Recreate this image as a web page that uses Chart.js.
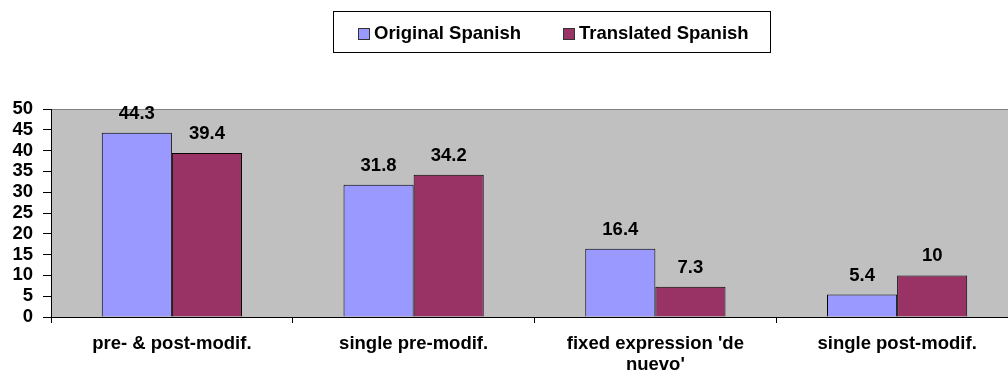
<!DOCTYPE html>
<html>
<head>
<meta charset="utf-8">
<script src="https://cdn.jsdelivr.net/npm/chart.js@4/dist/chart.umd.min.js"></script>
<style>
  html, body { margin: 0; padding: 0; background: #fff; overflow: hidden; }
  #wrap { position: relative; width: 1018px; height: 376px; }
  #legend {
    position: absolute; left: 333px; top: 11px; width: 436px; height: 40px;
    border: 1px solid #000; background: #fff;
    font: bold 18.5px "Liberation Sans", Arial, sans-serif; color: #000;
  }
  .item { position: absolute; top: 0; height: 40px; line-height: 42px; white-space: nowrap; }
  .sw { position: absolute; width: 10px; height: 10px; border: 1px solid #333; top: 16px; }
  .tx { position: absolute; left: 16px; top: 0; }
</style>
</head>
<body>
<div id="wrap">
  <canvas id="c"></canvas>
  <div id="legend"></div>
</div>
<script>
const categories = [
  ["pre- & post-modif."],
  ["single pre-modif."],
  ["fixed expression 'de", "nuevo'"],
  ["single post-modif."]
];
const seriesNames = ["Original Spanish", "Translated Spanish"];
const originalSpanish = [44.3, 31.8, 16.4, 5.4];
const translatedSpanish = [39.4, 34.2, 7.3, 10];
const seriesColors = ["#9999FF", "#993366"];
const yTicks = [0, 5, 10, 15, 20, 25, 30, 35, 40, 45, 50];

const FONT = "'Liberation Sans', Arial, sans-serif";

// legend (HTML)
const legendEl = document.getElementById('legend');
const legendPos = [24, 229];
seriesNames.forEach((name, i) => {
  const it = document.createElement('div');
  it.className = 'item';
  it.style.left = legendPos[i] + 'px';
  const sw = document.createElement('div');
  sw.className = 'sw';
  sw.style.background = seriesColors[i];
  const tx = document.createElement('div');
  tx.className = 'tx';
  tx.textContent = name;
  it.appendChild(sw); it.appendChild(tx);
  legendEl.appendChild(it);
});

const plotBg = {
  id: 'plotBg',
  beforeDraw(chart) {
    const {ctx, chartArea: a} = chart;
    ctx.save();
    ctx.fillStyle = '#C0C0C0';
    ctx.fillRect(a.left, a.top, a.right - a.left, a.bottom - a.top);
    ctx.strokeStyle = '#808080';
    ctx.lineWidth = 1;
    ctx.strokeRect(a.left + 0.5, a.top + 0.5, a.right - a.left, a.bottom - a.top);
    ctx.restore();
  }
};

const valueLabels = {
  id: 'valueLabels',
  afterDatasetsDraw(chart) {
    const ctx = chart.ctx;
    ctx.save();
    ctx.font = 'bold 18.5px ' + FONT;
    ctx.fillStyle = '#000';
    ctx.textAlign = 'center';
    ctx.textBaseline = 'alphabetic';
    chart.data.datasets.forEach((ds, di) => {
      chart.getDatasetMeta(di).data.forEach((bar, i) => {
        ctx.fillText(String(ds.data[i]), bar.x, bar.y - 14);
      });
    });
    ctx.restore();
  }
};

new Chart(document.getElementById('c'), {
  type: 'bar',
  data: {
    labels: categories,
    datasets: [
      { label: seriesNames[0], data: originalSpanish, backgroundColor: seriesColors[0], borderColor: '#000', borderWidth: 1 },
      { label: seriesNames[1], data: translatedSpanish, backgroundColor: seriesColors[1], borderColor: '#000', borderWidth: 1 }
    ]
  },
  options: {
    responsive: true,
    maintainAspectRatio: false,
    animation: false,
    devicePixelRatio: 1,
    events: [],
    layout: { padding: { top: 109, left: 0, right: 0, bottom: 0 } },
    datasets: { bar: { categoryPercentage: 0.58, barPercentage: 1.0 } },
    plugins: { legend: { display: false }, tooltip: { enabled: false } },
    scales: {
      x: {
        grid: { display: true, drawOnChartArea: false, drawTicks: true, tickLength: 6, color: '#000', offset: true },
        border: { display: true, color: '#000', width: 1 },
        ticks: { color: '#000', font: { family: FONT, size: 18.5, weight: 'bold', lineHeight: 1.15 }, padding: 10, maxRotation: 0, autoSkip: false },
        afterFit(s) { s.height = 59; }
      },
      y: {
        min: 0, max: 50,
        afterBuildTicks(s) { s.ticks = yTicks.map(v => ({ value: v })); },
        grid: { display: true, drawOnChartArea: false, drawTicks: true, tickLength: 8, color: '#000' },
        border: { display: true, color: '#000', width: 1 },
        ticks: { color: '#000', font: { family: FONT, size: 18.5, weight: 'bold' }, padding: 10, autoSkip: false },
        afterFit(s) { s.width = 51; }
      }
    }
  },
  plugins: [plotBg, valueLabels]
});
</script>
</body>
</html>
